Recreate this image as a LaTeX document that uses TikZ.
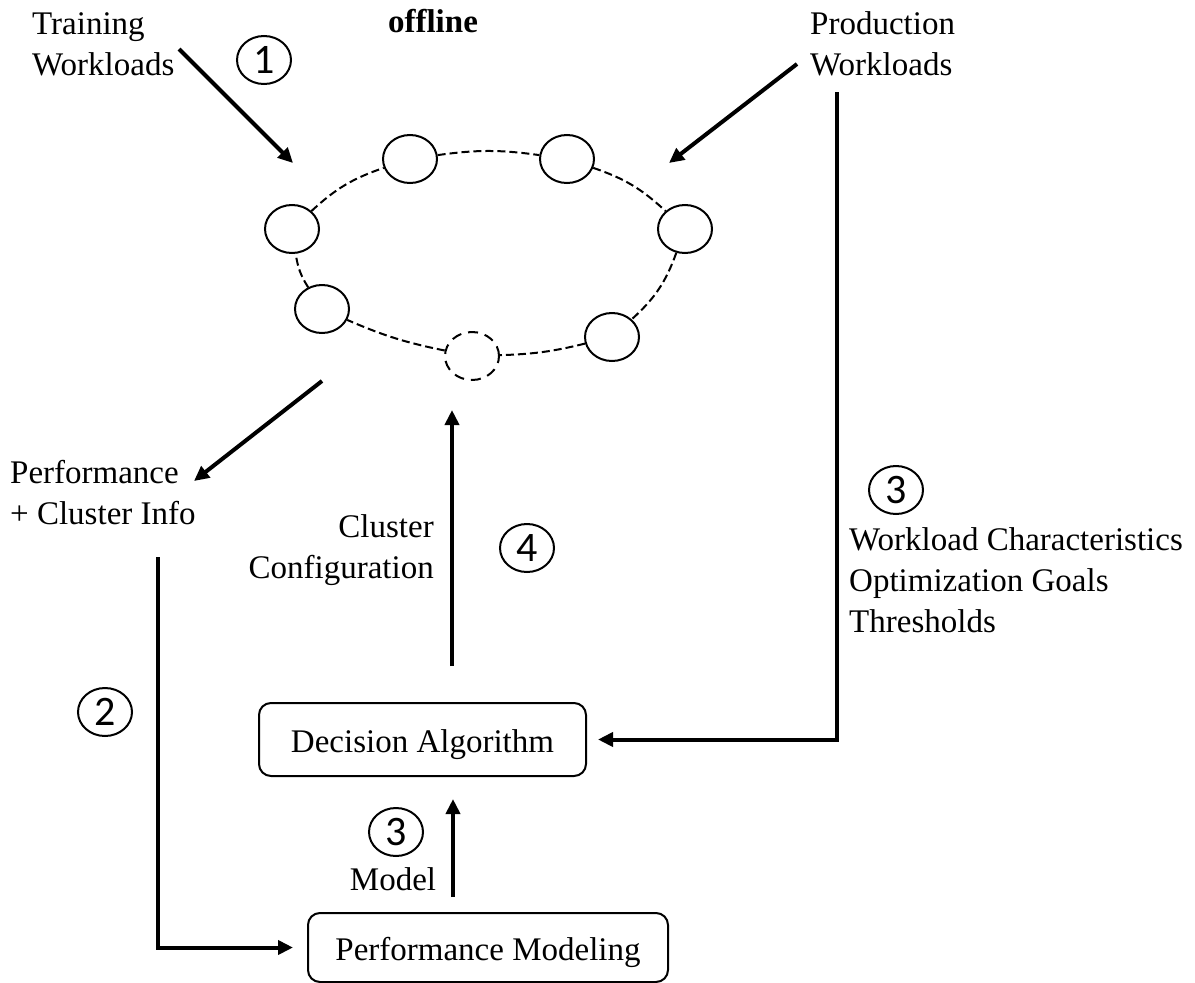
\documentclass[tikz,border=0pt]{standalone}
\usepackage{fontspec}
\setmainfont{Liberation Serif}
\newfontfamily\numfont{Carlito}
\usetikzlibrary{arrows.meta,shapes.geometric}
\begin{document}
\begin{tikzpicture}[x=1pt,y=-1pt,
  txt/.style={font=\fontsize{33}{41}\selectfont, inner sep=0pt, align=left},
  ringnode/.style={ellipse, draw, line width=2pt, fill=white, minimum width=54pt, minimum height=48pt, inner sep=0pt},
  ghost/.style={ringnode, dash pattern=on 10pt off 7pt},
  ringlink/.style={line width=2pt, dash pattern=on 8pt off 4pt},
  flow/.style={line width=4pt, -{Triangle[length=15pt,width=14pt]}},
  stepnum/.style={ellipse, draw, line width=2pt, minimum width=54pt, minimum height=48pt, inner sep=0pt, font=\numfont\fontsize{42}{42}\selectfont},
  block/.style={draw, line width=2pt, rounded corners=12pt, inner sep=0pt, text height=26pt, text depth=0pt, font=\fontsize{33}{41}\selectfont}
]
\useasboundingbox (0,0) rectangle (1195,983);

% text labels (base anchor sits on the last line)
\node[txt, anchor=base west] (train) at (32,75) {Training\\Workloads};
\node[txt, anchor=base, font=\fontsize{33}{41}\selectfont\bfseries] (offline) at (433,32) {offline};
\node[txt, anchor=base west] (prod) at (810,75) {Production\\Workloads};
\node[txt, anchor=base west] (perf) at (10,524) {Performance\\+ Cluster Info};
\node[txt, anchor=base east, align=right] (cfg) at (434,578) {Cluster\\Configuration};
\node[txt, anchor=base west] (chars) at (849,632) {Workload Characteristics\\Optimization Goals\\Thresholds};
\node[txt, anchor=base] (model) at (393,890) {Model};

% cluster ring
\node[ringnode] (r1) at (410,159) {};
\node[ringnode] (r2) at (567,159) {};
\node[ringnode] (r3) at (685,229) {};
\node[ringnode] (r4) at (612,337) {};
\node[ghost]    (r5) at (472,356) {};
\node[ringnode] (r6) at (322,309) {};
\node[ringnode] (r7) at (292,229) {};
\draw[ringlink] (r1) to[bend left=8] (r2);
\draw[ringlink] (r2) to[bend left=12] (r3);
\draw[ringlink] (r3) to[bend left=14] (r4);
\draw[ringlink] (r4) to[bend left=6] (r5);
\draw[ringlink] (r5) to[bend left=6] (r6);
\draw[ringlink] (r6) to[bend left=12] (r7);
\draw[ringlink] (r7) to[bend left=12] (r1);

% blocks
\node[block, minimum width=327pt, minimum height=73pt] (dec) at (422.5,739.5) {Decision Algorithm};
\node[block, minimum width=360pt, minimum height=69pt] (pm) at (488,947.5) {Performance Modeling};

% step numbers
\node[stepnum] (s1) at (264,60) {1};
\node[stepnum] (s2) at (105,712) {2};
\node[stepnum] (s3) at (896,490) {3};
\node[stepnum] (s4) at (527,548) {4};
\node[stepnum] (s5) at (396,832) {3};

% free ends of the flows
\coordinate (t0) at (179,49);
\coordinate (t1) at (293,163);
\coordinate (p0) at (797,64);
\coordinate (p1) at (669,163);
\coordinate (f0) at (322,381);
\coordinate (f1) at (194,481);
\coordinate (l0) at (158,557);
\coordinate (q0) at (837,92);

% flows
\draw[flow] (t0) -- (t1);
\draw[flow] (p0) -- (p1);
\draw[flow] (f0) -- (f1);
\draw[flow] (l0) |- ([xshift=-14pt]pm.west);
\draw[flow] (q0) |- ([xshift=11pt]dec.east);
\draw[flow] ([xshift=29.5pt,yshift=36pt]dec.north) -- ([xshift=-20pt,yshift=-29pt]r5.south);
\draw[flow] ([xshift=-35pt,yshift=15pt]pm.north) -- ([xshift=30.5pt,yshift=-22pt]dec.south);
\end{tikzpicture}
\end{document}
